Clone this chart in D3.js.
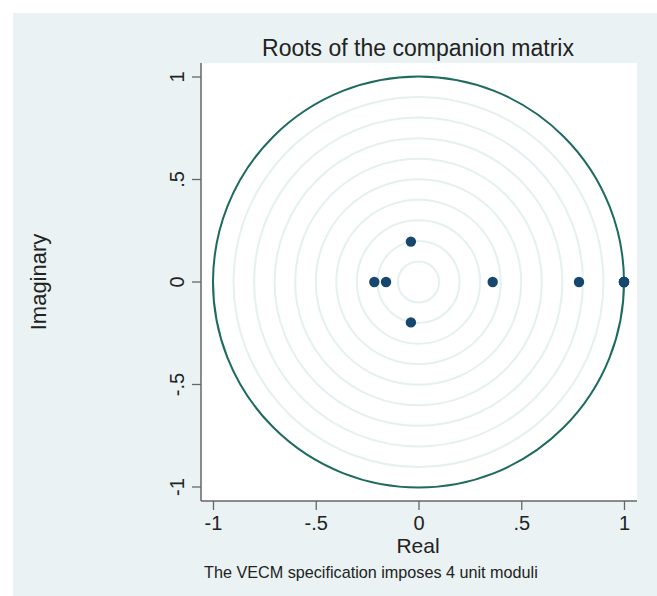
<!DOCTYPE html>
<html>
<head>
<meta charset="utf-8">
<script src="https://cdn.jsdelivr.net/npm/d3@7"></script>
<style>
  html, body { margin: 0; padding: 0; background: #fff; }
  svg { display: block; font-family: "Liberation Sans", Arial, sans-serif; }
</style>
</head>
<body>
<div id="chart"></div>
<script>
// Eigenvalues of the companion matrix
const realParts = [-0.215, -0.158, -0.037, -0.037, 0.361, 0.781, 1, 1, 1, 1];
const imagParts = [0, 0, 0.197, -0.197, 0, 0, 0, 0, 0, 0];
const gridRadii = [0.1, 0.2, 0.3, 0.4, 0.5, 0.6, 0.7, 0.8, 0.9];
const tickValues = [-1, -0.5, 0, 0.5, 1];
const tickLabels = ['-1', '-.5', '0', '.5', '1'];

const W = 657, H = 596;
const plot = { left: 201, top: 63, right: 637, bottom: 501 };

const svg = d3.select('#chart').append('svg')
  .attr('width', W).attr('height', H);

svg.append('rect').attr('x', 13).attr('y', 13)
  .attr('width', W - 13).attr('height', H - 13)
  .attr('fill', '#eaf2f3');

svg.append('rect')
  .attr('x', plot.left).attr('y', plot.top)
  .attr('width', plot.right - plot.left).attr('height', plot.bottom - plot.top)
  .attr('fill', '#fff');

const x = d3.scaleLinear().domain([-1, 1]).range([213, 624]);
const y = d3.scaleLinear().domain([-1, 1]).range([487, 77]);
const r = v => (x(v) - x(0));

// faint reference circles, then the unit circle
svg.append('g').selectAll('circle').data(gridRadii).join('circle')
  .attr('cx', x(0)).attr('cy', y(0)).attr('r', d => r(d))
  .attr('fill', 'none').attr('stroke', '#e5f0f1').attr('stroke-width', 2);

svg.append('circle')
  .attr('cx', x(0)).attr('cy', y(0)).attr('r', r(1))
  .attr('fill', 'none').attr('stroke', '#1d6a5e').attr('stroke-width', 2);

// axes
const fmt = v => tickLabels[tickValues.indexOf(v)];
const xAxis = svg.append('g').attr('transform', `translate(0,${plot.bottom})`)
  .call(d3.axisBottom(x).tickValues(tickValues).tickFormat(fmt).tickSize(9).tickSizeOuter(0).tickPadding(6));
const yAxis = svg.append('g').attr('transform', `translate(${plot.left},0)`)
  .call(d3.axisLeft(y).tickValues(tickValues).tickFormat(fmt).tickSize(9).tickSizeOuter(0).tickPadding(6));

[xAxis, yAxis].forEach(a => {
  a.select('.domain').remove();
  a.selectAll('line').attr('stroke', '#666').attr('stroke-width', 1.3);
  a.selectAll('text').attr('fill', '#222').attr('font-size', 20)
    .attr('font-family', '"Liberation Sans", Arial, sans-serif');
});
yAxis.selectAll('text')
  .attr('transform', 'rotate(-90)')
  .attr('y', -17).attr('dy', 0)
  .attr('text-anchor', 'middle')
  .each(function (d) { d3.select(this).attr('x', -y(d)); });
yAxis.selectAll('.tick').attr('transform', 'translate(0,0)')
  .select('line').each(function (d) { d3.select(this).attr('y1', y(d)).attr('y2', y(d)); });

// axis lines along the plot region edges
svg.append('line').attr('x1', plot.left).attr('x2', plot.left)
  .attr('y1', plot.top).attr('y2', plot.bottom)
  .attr('stroke', '#666').attr('stroke-width', 1.5);
svg.append('line').attr('x1', plot.left).attr('x2', plot.right)
  .attr('y1', plot.bottom).attr('y2', plot.bottom)
  .attr('stroke', '#666').attr('stroke-width', 1.5);

// roots
svg.append('g').selectAll('circle').data(realParts).join('circle')
  .attr('cx', d => x(d)).attr('cy', (d, i) => y(imagParts[i]))
  .attr('r', 5.2).attr('fill', '#16476f');

// titles
svg.append('text').attr('x', 418).attr('y', 56)
  .attr('text-anchor', 'middle').attr('font-size', 23).attr('fill', '#222')
  .text('Roots of the companion matrix');
svg.append('text').attr('x', 418).attr('y', 553)
  .attr('text-anchor', 'middle').attr('font-size', 21).attr('fill', '#222')
  .text('Real');
svg.append('text').attr('transform', `translate(46,${y(0)}) rotate(-90)`)
  .attr('text-anchor', 'middle').attr('font-size', 22).attr('fill', '#222')
  .text('Imaginary');
svg.append('text').attr('x', 204).attr('y', 578)
  .attr('font-size', 16.2).attr('fill', '#222')
  .text('The VECM specification imposes 4 unit moduli');
</script>
</body>
</html>
